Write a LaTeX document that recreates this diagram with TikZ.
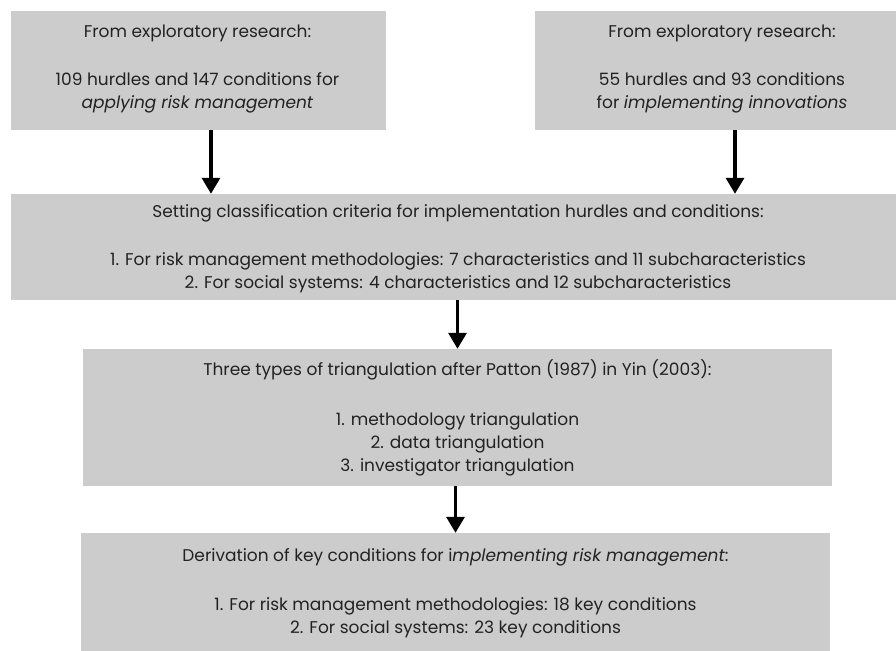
\documentclass[tikz,border=0pt]{standalone}
\usepackage{fontspec}
\setmainfont{Poppins}
\usetikzlibrary{arrows.meta}
\definecolor{boxgray}{HTML}{CCCCCC}
\definecolor{inktext}{HTML}{222222}
\tikzset{
  stagebox/.style={fill=boxgray, draw=none, inner sep=0pt},
  stagetext/.style={anchor=north, align=center, inner sep=0pt, text=inktext,
    font=\fontsize{17}{23}\selectfont},
  flowarrow/.style={line width=3.2pt, -{Triangle[length=16pt,width=18pt]}}
}
% first-line strut: every text block starts 15pt above its first baseline
\newcommand{\firstline}{\rule{0pt}{15pt}}
\begin{document}
\begin{tikzpicture}[x=1pt, y=-1pt]
  \useasboundingbox (0,0) rectangle (896,650);
  \clip (0,0) rectangle (896,650);

  % grey stage boxes
  \node[stagebox, minimum width=375pt, minimum height=119pt] (b1) at (198.5,70.5) {};
  \node[stagebox, minimum width=375pt, minimum height=119pt] (b2) at (722.5,70.5) {};
  \node[stagebox, minimum width=899pt, minimum height=106pt] (b3) at (460.5,247) {};
  \node[stagebox, minimum width=749pt, minimum height=137pt] (b4) at (457.5,417.5) {};
  \node[stagebox, minimum width=749pt, minimum height=130pt] (b5) at (455.5,598) {};

  % box texts
  \node[stagetext] (t1) at (197.5,22) {\firstline From exploratory research:\\[25pt]
    109 hurdles and 147 conditions for\\ \textit{applying risk management}};
  \node[stagetext] (t2) at (722,22) {\firstline From exploratory research:\\[25pt]
    55 hurdles and 93 conditions\\ for \textit{implementing innovations}};
  \node[stagetext] (t3) at (458,202) {\firstline Setting classification criteria for implementation hurdles and conditions:\\[25pt]
    1. For risk management methodologies: 7 characteristics and 11 subcharacteristics\\
    2. For social systems: 4 characteristics and 12 subcharacteristics};
  \node[stagetext] (t4) at (457.5,359) {\firstline Three types of triangulation after Patton (1987) in Yin (2003):\\[27pt]
    1. methodology triangulation\\ 2. data triangulation\\ 3. investigator triangulation};
  \node[stagetext] (t5) at (455.5,546) {\firstline Derivation of key conditions for i\textit{mplementing risk management}:\\[26pt]
    1. For risk management methodologies: 18 key conditions\\
    2. For social systems: 23 key conditions};

  % arrows between stages
  \draw[flowarrow] ([xshift=12.5pt]b1.south) -- ([xshift=12.5pt]b1.south |- b3.north);
  \draw[flowarrow] ([xshift=12.5pt]b2.south) -- ([xshift=12.5pt]b2.south |- b3.north);
  \draw[flowarrow] (b4.north |- b3.south) -- (b4.north);
  \draw[flowarrow] (b5.north |- b4.south) -- (b5.north);
\end{tikzpicture}
\end{document}
